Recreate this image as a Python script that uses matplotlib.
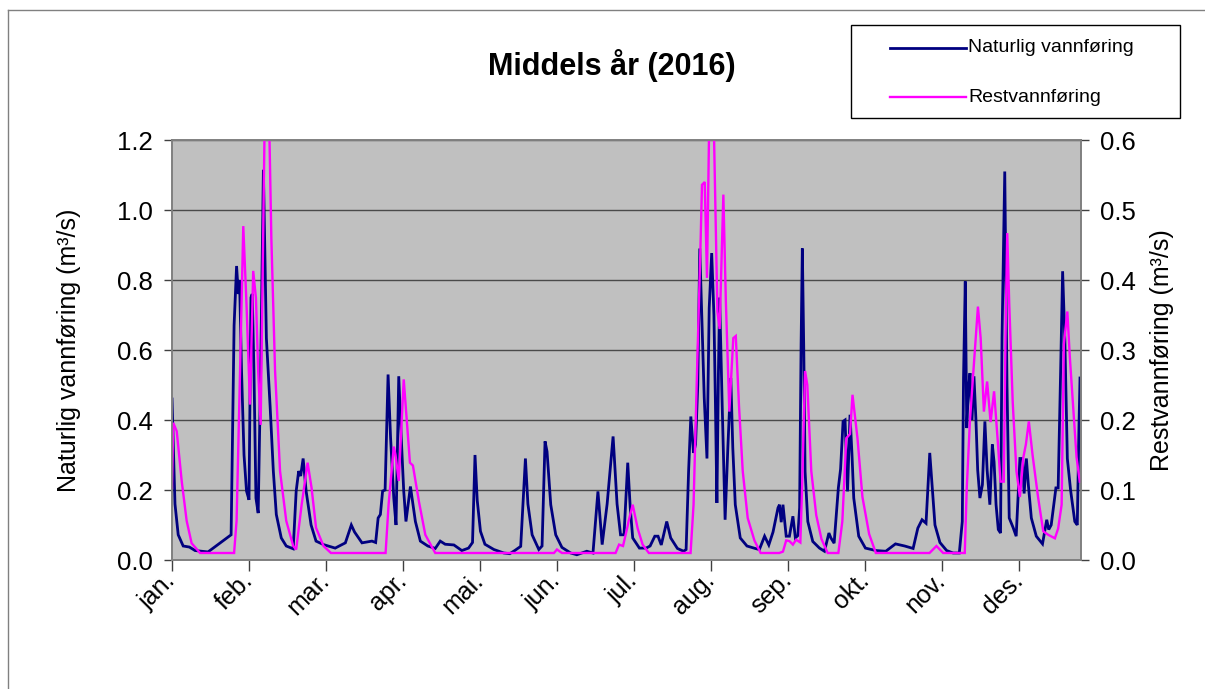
import numpy as np
import matplotlib
matplotlib.use("Agg")
import matplotlib.pyplot as plt
from matplotlib.lines import Line2D
from matplotlib.patches import Rectangle
from matplotlib.transforms import ScaledTranslation

plt.rcParams['font.family'] = ['Liberation Sans', 'DejaVu Sans']

# day of year (0 = 1 Jan 2016) and flow values
nat_days = [0, 1.2, 2.5, 4.5, 7, 9.3, 14.5, 23.8, 24.4, 25, 26, 26.7, 27.2, 28, 29, 30,
            31, 31.8, 32.3, 33, 33.8, 34.7, 35.7, 36.8, 37.4, 38, 39.5, 40.8, 42, 44, 46,
            48.8, 50, 51, 51.8, 52.8, 54, 56, 58, 61, 65.7, 69.8, 72.2, 73.5, 76.5, 80.5,
            82, 83, 83.9, 84.8, 85.8, 87, 88, 89.3, 90.2, 91.3, 92.3, 93.3, 94.2, 96, 98,
            100, 103, 106, 108, 110, 113.5, 116.7, 119.4, 121, 122, 122.9, 124.2, 126,
            129.6, 133.6, 136, 138, 140.4, 142.3, 143.3, 145, 147.7, 149, 150.2, 151,
            152.5, 154.5, 157, 160.5, 163, 167, 169.5, 171.5, 173.2, 175.2, 177.6, 179.2,
            180.6, 182, 183.5, 184.5, 185.5, 188.2, 190.9, 192.5, 194.4, 195.7, 197,
            199.2, 200.8, 203.5, 206, 207, 208, 208.9, 210, 210.8, 211.7, 212.5, 213.3,
            214.3, 215.4, 216.3, 217.3, 218.2, 218.8, 219.4, 220, 220.5, 221.5, 222.7,
            223.8, 225, 225.8, 226.8, 228.8, 231.5, 234.8, 236.5, 238.6, 240.3, 242, 244,
            244.6, 245.3, 246, 247.3, 248.6, 250, 251, 252, 252.7, 253.3, 253.8, 254.4,
            254.9, 256, 258, 260.7, 262.7, 264.5, 265.3, 266.6, 268.3, 269.2, 270.2, 271,
            272, 273, 273.8, 274.5, 276.5, 279.2, 283.4, 287.4, 291.3, 295, 298.4, 300.3,
            302, 303.6, 305.1, 306.2, 307.2, 309.2, 311.9, 314.5, 317, 318.2, 318.7,
            319.4, 320, 320.7, 321.3, 322.1, 322.9, 323.7, 324.4, 325.3, 326.3, 327.3,
            328.2, 329.3, 330.3, 331, 331.8, 332.7, 333.6, 334.2, 335.3, 336.2, 337.1,
            338.7, 339.9, 341.4, 342.5, 343.1, 344, 344.8, 346, 348, 350.5, 352.2, 353,
            354, 355.9, 356.8, 357.8, 358.6, 359.5, 360.5, 361.8, 363.5, 364.5, 365.2,
            365.6]
nat_flow = [0.46, 0.16, 0.072, 0.04, 0.037, 0.027, 0.023, 0.072, 0.38, 0.67, 0.84, 0.76, 0.80,
            0.54, 0.30, 0.197, 0.172, 0.75, 0.76, 0.54, 0.177, 0.134, 0.54, 1.115, 0.88,
            0.634, 0.44, 0.254, 0.13, 0.063, 0.04, 0.032, 0.197, 0.254, 0.24, 0.29, 0.197,
            0.10, 0.054, 0.044, 0.034, 0.049, 0.10, 0.08, 0.049, 0.054, 0.05, 0.12, 0.13,
            0.197, 0.20, 0.53, 0.35, 0.177, 0.10, 0.525, 0.35, 0.197, 0.11, 0.21, 0.11,
            0.054, 0.04, 0.033, 0.054, 0.045, 0.043, 0.027, 0.034, 0.05, 0.30, 0.17, 0.082,
            0.045, 0.03, 0.02, 0.018, 0.027, 0.039, 0.29, 0.16, 0.072, 0.03, 0.04, 0.339,
            0.31, 0.158, 0.072, 0.036, 0.02, 0.015, 0.025, 0.02, 0.196, 0.044, 0.16, 0.353,
            0.16, 0.072, 0.072, 0.278, 0.15, 0.063, 0.034, 0.034, 0.04, 0.068, 0.068, 0.043,
            0.11, 0.063, 0.033, 0.025, 0.03, 0.253, 0.41, 0.306, 0.33, 0.50, 0.89, 0.70,
            0.463, 0.29, 0.72, 0.877, 0.70, 0.45, 0.163, 0.53, 0.75, 0.45, 0.115, 0.32,
            0.52, 0.32, 0.158, 0.063, 0.04, 0.033, 0.03, 0.068, 0.043, 0.08, 0.149, 0.158,
            0.108, 0.158, 0.068, 0.068, 0.125, 0.063, 0.07, 0.149, 0.615, 0.89, 0.587,
            0.253, 0.11, 0.053, 0.034, 0.025, 0.077, 0.063, 0.048, 0.206, 0.26, 0.396, 0.40,
            0.196, 0.415, 0.30, 0.177, 0.068, 0.034, 0.027, 0.025, 0.046, 0.04, 0.033,
            0.091, 0.115, 0.105, 0.306, 0.20, 0.10, 0.05, 0.027, 0.02, 0.02, 0.11, 0.52,
            0.796, 0.377, 0.49, 0.534, 0.40, 0.525, 0.40, 0.257, 0.177, 0.215, 0.396, 0.257,
            0.158, 0.33, 0.28, 0.158, 0.087, 0.077, 0.634, 1.11, 0.50, 0.12, 0.092, 0.068,
            0.29, 0.29, 0.19, 0.29, 0.215, 0.12, 0.068, 0.046, 0.115, 0.087, 0.10, 0.206,
            0.206, 0.54, 0.825, 0.63, 0.29, 0.20, 0.11, 0.10, 0.387, 0.52]

rest_days = [0, 0.5, 1.9, 3.9, 5.9, 7.9, 11.3, 25, 26, 27.4, 28.7, 30, 31.4, 32.7, 33.8,
             34.7, 35.7, 36.5, 37.4, 39, 40, 41.5, 43.5, 46, 48.8, 50, 52.2, 54.6, 56.2,
             58, 61, 64, 86, 87.2, 89.3, 90, 91.3, 93.3, 94.5, 95.8, 97, 99.4, 102, 106,
             153.8, 155, 157, 178.6, 180, 181.6, 183.3, 183.8, 185.5, 187.5, 189.5, 192,
             208.8, 210, 211.4, 212.7, 213.4, 214.5, 215.4, 216.4, 218, 219.6, 220.5, 222,
             223, 224.4, 226, 227, 228.3, 229.8, 231.8, 234.5, 237, 244.5, 246, 247.3,
             248.6, 250, 251.3, 253, 253.7, 254.9, 255.8, 257.4, 259.4, 261.5, 264, 268.3,
             269.9, 271.5, 273, 274, 276, 278, 280.7, 283.4, 305, 307.8, 310.5, 319.2, 320,
             321.3, 322.7, 324.5, 325.6, 326.9, 328.2, 329.6, 331, 332.4, 333.6, 334.9,
             335.6, 336.3, 337.1, 338.5, 340, 341.4, 342.8, 343.8, 345, 346.5, 348.7,
             350.8, 352.8, 355.5, 356.8, 358.2, 359.1, 360.5, 361.5, 362.8, 364.2, 365.5]
rest_flow = [0.103, 0.196, 0.184, 0.113, 0.056, 0.024, 0.01, 0.01, 0.056, 0.27, 0.477, 0.365,
             0.222, 0.413, 0.374, 0.27, 0.193, 0.41, 0.65, 0.65, 0.46, 0.27, 0.127, 0.056,
             0.02, 0.015, 0.079, 0.139, 0.103, 0.046, 0.02, 0.01, 0.01, 0.079, 0.162, 0.15,
             0.113, 0.258, 0.20, 0.139, 0.135, 0.084, 0.036, 0.01, 0.01, 0.015, 0.01, 0.01,
             0.022, 0.02, 0.046, 0.055, 0.079, 0.045, 0.022, 0.01, 0.01, 0.079, 0.27, 0.436,
             0.536, 0.54, 0.403, 0.65, 0.65, 0.355, 0.33, 0.522, 0.37, 0.212, 0.317, 0.32,
             0.22, 0.127, 0.06, 0.028, 0.01, 0.01, 0.012, 0.028, 0.027, 0.022, 0.029, 0.025,
             0.103, 0.27, 0.25, 0.127, 0.064, 0.03, 0.01, 0.01, 0.055, 0.174, 0.18, 0.236,
             0.174, 0.09, 0.037, 0.01, 0.01, 0.02, 0.01, 0.01, 0.103, 0.20, 0.27, 0.362,
             0.317, 0.212, 0.255, 0.197, 0.241, 0.174, 0.112, 0.112, 0.317, 0.467, 0.367,
             0.226, 0.127, 0.09, 0.147, 0.165, 0.198, 0.15, 0.09, 0.041, 0.036, 0.031,
             0.045, 0.079, 0.308, 0.355, 0.29, 0.22, 0.147, 0.112]

months = ["jan.", "feb.", "mar.", "apr.", "mai.", "jun.", "jul.", "aug.", "sep.",
          "okt.", "nov.", "des."]
month_ticks = [31 * i for i in range(12)]

W, H = 1205, 689
fig = plt.figure(figsize=(W / 100, H / 100), dpi=100)
ax = fig.add_axes([172 / W, 1 - 560 / H, 909 / W, 420 / H])
ax.set_facecolor("#c0c0c0")
ax2 = ax.twinx()

ax.plot(nat_days, nat_flow, color="#000080", lw=2.0, solid_joinstyle="miter")
ax2.plot(rest_days, rest_flow, color="#ff00ff", lw=1.7, solid_joinstyle="miter")

ax.set_xlim(0, 366)
ax.set_ylim(0, 1.2)
ax2.set_ylim(0, 0.6)
ax.set_yticks(np.arange(0, 1.21, 0.2))
ax2.set_yticks(np.arange(0, 0.61, 0.1))
ax.set_yticklabels([f"{v:.1f}" for v in np.arange(0, 1.21, 0.2)])
ax2.set_yticklabels([f"{v:.1f}" for v in np.arange(0, 0.61, 0.1)])
ax.yaxis.grid(True, color="#4a4a4a", lw=1.0)
ax.set_axisbelow(True)

ax.set_xticks(month_ticks)
ax.set_xticklabels(months, rotation=45, ha="right", va="center", rotation_mode="anchor")
for lab in ax.get_xticklabels():
    lab.set_transform(lab.get_transform() + ScaledTranslation(0.15, 0.05, fig.dpi_scale_trans))

for a in (ax, ax2):
    for s in a.spines.values():
        s.set_color("#808080")
        s.set_linewidth(1.2)
    a.tick_params(labelsize=18.5, length=6, width=1, color="#404040", pad=8)
ax.tick_params(axis="x", length=8, labelsize=18, pad=4)

ax.set_ylabel("Naturlig vannføring (m³/s)", fontsize=18)
ax2.set_ylabel("Restvannføring (m³/s)", fontsize=18)
ax.yaxis.set_label_coords(-0.1, 0.5)
ax2.yaxis.set_label_coords(1.076, 0.5)

fig.text(612 / W, 1 - 65 / H, "Middels år (2016)", ha="center", va="center",
         fontsize=22, fontweight="bold")

# legend box drawn in figure pixels
def fx(x):
    return x / W

def fy(y):
    return 1 - y / H

fig.add_artist(Rectangle((fx(851), fy(118)), fx(1180) - fx(851), fy(25) - fy(118),
                         transform=fig.transFigure, facecolor="white", edgecolor="black", lw=1))
for yy, col, lw, name in [(48, "#000080", 2.0, "Naturlig vannføring"),
                          (97, "#ff00ff", 1.7, "Restvannføring")]:
    fig.add_artist(Line2D([fx(890), fx(966)], [fy(yy), fy(yy)], color=col, lw=lw,
                          transform=fig.transFigure))
    fig.text(fx(968), fy(yy), name, ha="left", va="center", fontsize=14)

# outer chart frame
fig.add_artist(Line2D([fx(8), 1], [fy(10), fy(10)], color="#808080", lw=1,
                      transform=fig.transFigure))
fig.add_artist(Line2D([fx(8), fx(8)], [fy(10), 0], color="#808080", lw=1,
                      transform=fig.transFigure))

fig.savefig("out.png", dpi=100)
